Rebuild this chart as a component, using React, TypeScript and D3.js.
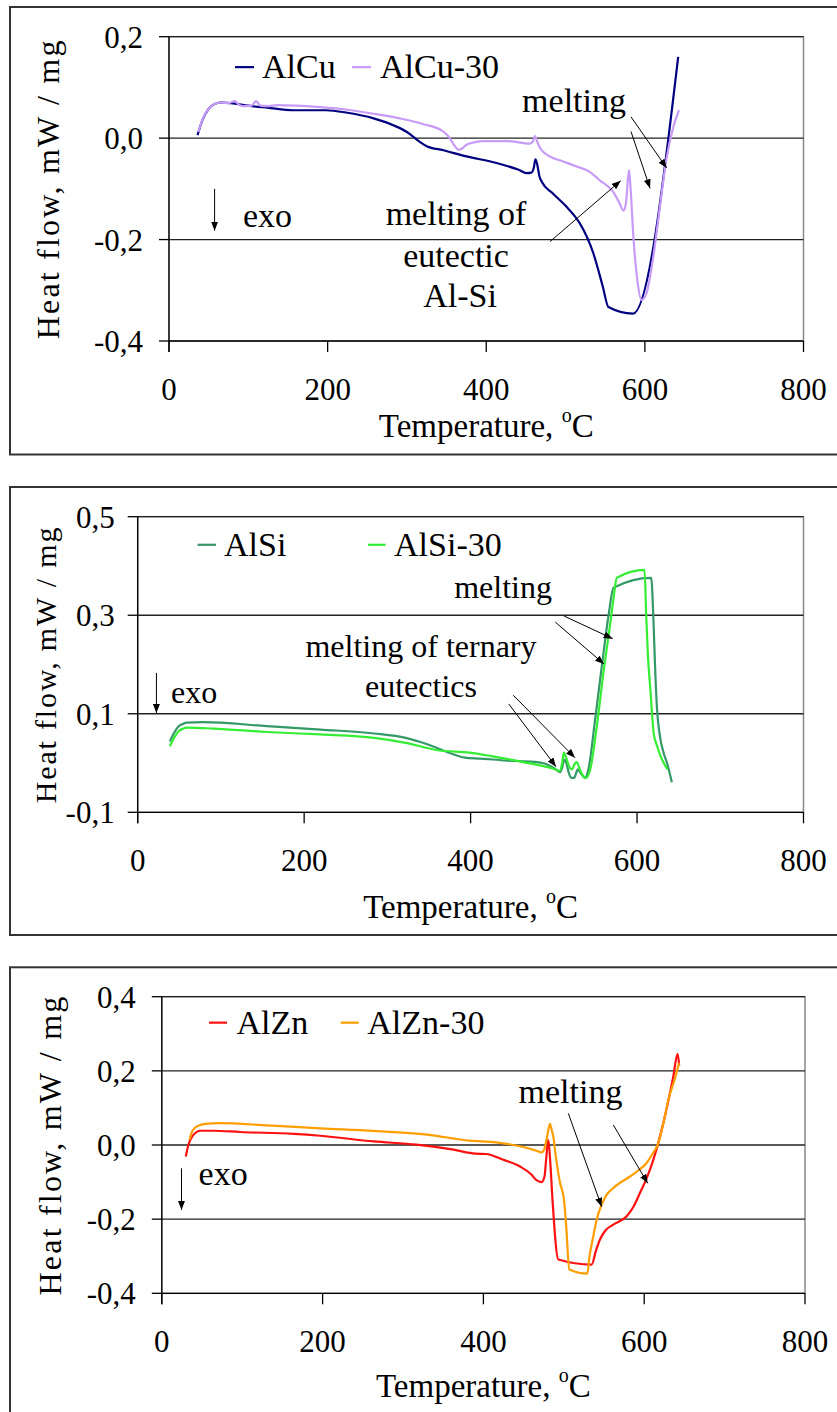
import React from "react";
import * as d3 from "d3";

type Pt = [number, number];

// ---------- DATA ----------
const xTicks = [0, 200, 400, 600, 800];
const xTickLabels = ["0", "200", "400", "600", "800"];

const yTicks1 = [-0.4, -0.2, 0.0, 0.2];
const yTickLabels1 = ["-0,4", "-0,2", "0,0", "0,2"];
const yTicks2 = [-0.1, 0.1, 0.3, 0.5];
const yTickLabels2 = ["-0,1", "0,1", "0,3", "0,5"];
const yTicks3 = [-0.4, -0.2, 0.0, 0.2, 0.4];
const yTickLabels3 = ["-0,4", "-0,2", "0,0", "0,2", "0,4"];

const seriesNames1 = ["AlCu", "AlCu-30"];
const seriesNames2 = ["AlSi", "AlSi-30"];
const seriesNames3 = ["AlZn", "AlZn-30"];

const alCu: Pt[] = [
  [36, 0.006], [42, 0.035], [50, 0.058], [57, 0.067], [65, 0.070], [83, 0.068], [100, 0.064],
  [124, 0.060], [157, 0.055], [198, 0.055], [225, 0.050], [258, 0.039], [285, 0.024], [300, 0.012],
  [315, -0.006], [325, -0.016], [346, -0.024], [375, -0.036], [413, -0.049], [440, -0.062],
  [451, -0.069], [457, -0.068], [460, -0.058], [462, -0.042], [464, -0.05], [467, -0.075],
  [470, -0.086], [484, -0.109], [501, -0.135], [518, -0.168], [527, -0.195], [535, -0.227],
  [547, -0.293], [554, -0.333], [585, -0.346], [642, 0.160],
];
const alCu30: Pt[] = [
  [37, 0.012], [43, 0.04], [50, 0.058], [57, 0.067], [65, 0.070], [75, 0.069], [83, 0.073],
  [88, 0.066], [94, 0.063], [104, 0.064], [110, 0.073], [115, 0.064], [125, 0.063], [137, 0.065],
  [160, 0.064], [191, 0.061], [225, 0.056], [258, 0.048], [291, 0.039], [320, 0.028], [346, 0.013],
  [354, 0.0], [360, -0.015], [365, -0.023], [370, -0.020], [375, -0.013], [386, -0.008],
  [396, -0.006], [427, -0.006], [455, -0.011], [459, -0.006], [461.5, 0.004], [464, -0.006],
  [468, -0.020], [480, -0.036], [497, -0.046], [514, -0.056], [530, -0.066], [543, -0.083],
  [560, -0.106], [568, -0.128], [573, -0.143], [576, -0.13], [580, -0.063], [582, -0.1],
  [585.5, -0.194], [590.5, -0.28], [595.7, -0.319], [602, -0.306], [610, -0.240], [619, -0.135],
  [627, -0.043], [636, 0.023], [643, 0.055],
];

const alSi: Pt[] = [
  [38.6, 0.044], [44, 0.062], [49.5, 0.075], [55, 0.080], [59, 0.082], [78, 0.083], [155, 0.075],
  [219.5, 0.068], [284, 0.060], [322, 0.051], [348, 0.038], [374, 0.021], [393, 0.011], [412, 0.009],
  [444, 0.005], [476, 0.0025], [489, -0.001], [500, -0.01], [507.6, -0.0185], [510, -0.01],
  [512.4, 0.007], [515, 0.0], [518, -0.02], [521, -0.03], [524.4, -0.03], [528.8, -0.013],
  [532, -0.02], [537.6, -0.03], [541.5, -0.013], [549.6, 0.088], [557.7, 0.197], [565.6, 0.298],
  [571.8, 0.356], [617, 0.376], [619.5, 0.30], [622, 0.18], [624, 0.11], [627, 0.06], [632, 0.02],
  [636, 0.0], [641.8, -0.039],
];
const alSi30: Pt[] = [
  [38.6, 0.034], [44, 0.052], [49.5, 0.065], [55, 0.070], [59, 0.072], [91, 0.070], [155, 0.063],
  [219.5, 0.058], [284, 0.051], [322, 0.041], [361, 0.026], [399, 0.021], [425, 0.014], [463, 0.002],
  [502, -0.013], [507, -0.016], [510, 0.0], [512, 0.021], [515, 0.01], [518, -0.005],
  [521.7, -0.013], [525, -0.002], [527.6, 0.0017], [531, -0.012], [534, -0.023], [539, -0.03],
  [543.7, -0.013], [551.7, 0.075], [559.6, 0.183], [566.8, 0.271], [571.6, 0.332], [575.7, 0.376],
  [609, 0.392], [611, 0.3], [613, 0.22], [616, 0.15], [620, 0.06], [624, 0.035], [628, 0.015],
  [636.6, -0.013],
];

const alZn: Pt[] = [
  [29.9, -0.031], [33, 0.0], [37.8, 0.023], [42, 0.033], [47.8, 0.0385], [64.4, 0.0385],
  [97.6, 0.035], [164, 0.030], [197, 0.025], [263.6, 0.0097], [316.7, 0.0008], [363, -0.0127],
  [390, -0.0235], [403, -0.0243], [424.8, -0.04], [445.5, -0.058], [460, -0.08], [466, -0.095],
  [472.5, -0.1], [476, -0.085], [478, -0.04], [480.7, 0.014], [483, -0.04], [486, -0.15],
  [493.2, -0.309], [534.7, -0.3225], [540, -0.285], [545, -0.255], [552, -0.23], [561.6, -0.215],
  [578.2, -0.192], [587, -0.165], [594.8, -0.129], [603, -0.09], [611.3, -0.04], [623.8, 0.059],
  [636.2, 0.185], [641.5, 0.246], [643.5, 0.215],
];
const alZn30: Pt[] = [
  [34.5, 0.014], [37, 0.033], [41, 0.046], [47, 0.053], [54.4, 0.057], [71, 0.059], [130.8, 0.053],
  [197, 0.045], [263.6, 0.038], [330, 0.028], [383, 0.0116], [416, 0.007], [449.5, -0.0054],
  [465, -0.015], [472.5, -0.02], [476, -0.01], [479, 0.02], [482.8, 0.057], [485, 0.04],
  [486.9, 0.023], [490, -0.03], [495.3, -0.102], [500.2, -0.147], [503, -0.22], [506.9, -0.336],
  [529.2, -0.347], [532, -0.3], [536.7, -0.246], [541, -0.2], [547, -0.161], [553, -0.135],
  [561.6, -0.116], [582.3, -0.085], [592, -0.07], [603, -0.0485], [610, -0.025], [617.5, 0.005],
  [624, 0.06], [630, 0.122], [638.3, 0.18], [643.3, 0.221],
];

// annotation anchors, in data units [T, heat flow]
const arrows1: [Pt, Pt][] = [
  [[582.5, 0.042], [627.5, -0.059]],
  [[582.5, 0.013], [606.5, -0.099]],
  [[480.4, -0.204], [569.5, -0.084]],
];
const arrows2: [Pt, Pt][] = [
  [[512.2, 0.2985], [570.7, 0.2524]],
  [[501.8, 0.286], [560.3, 0.201]],
  [[451.3, 0.1375], [525.4, 0.0109]],
  [[445.8, 0.12], [502.6, -0.0074]],
];
const arrows3: [Pt, Pt][] = [
  [[505.6, 0.0855], [547.1, -0.1664]],
  [[561.6, 0.054], [604.4, -0.1033]],
];

// ---------- LAYOUT ----------
const SERIF = "'Liberation Serif', 'Times New Roman', serif";
const TITLE_FONT = "'Liberation Serif', 'Times New Roman', serif";

type Label = { t: string; at: Pt; anchor: string; size: number };

interface PanelCfg {
  id: string;
  frameTop: number;
  frameBottom: number;
  px0: number;
  px1: number;
  pyTop: number;
  pyBottom: number;
  ymin: number;
  ymax: number;
  yTicks: number[];
  yLabels: string[];
  ytLabelOffset: number;
  series: { name: string; data: Pt[]; color: string }[];
  legend: { x1: number; x2: number; tx: number; y: number }[];
  labels: Label[];
  arrows: [Pt, Pt][];
  exo: { x: number; y1: number; y2: number; tx: number; ty: number };
  titleX: number;
  titleSize: number;
  titleSpacing: number;
  xTitleDy: number;
  annSize: number;
}

const panels: PanelCfg[] = [
  {
    id: "p1",
    frameTop: 7,
    frameBottom: 454.5,
    px0: 169,
    px1: 803.5,
    pyTop: 36.7,
    pyBottom: 341,
    ymin: -0.4,
    ymax: 0.2,
    yTicks: yTicks1,
    yLabels: yTickLabels1,
    ytLabelOffset: 26,
    series: [
      { name: seriesNames1[0], data: alCu, color: "#000080" },
      { name: seriesNames1[1], data: alCu30, color: "#C79BF7" },
    ],
    legend: [
      { x1: 83.2, x2: 107.2, tx: 117.3, y: 0.14 },
      { x1: 230.7, x2: 254.7, tx: 266, y: 0.14 },
    ],
    labels: [
      { t: "melting", at: [510.7, 0.0515], anchor: "middle", size: 34 },
      { t: "melting of", at: [361.9, -0.171], anchor: "middle", size: 34 },
      { t: "eutectic", at: [361.9, -0.254], anchor: "middle", size: 34 },
      { t: "Al-Si", at: [367, -0.333], anchor: "middle", size: 34 },
    ],
    arrows: arrows1,
    exo: { x: 57.5, y1: -0.1, y2: -0.1825, tx: 93.3, ty: -0.175 },
    titleX: 59,
    titleSize: 32,
    titleSpacing: 2.2,
    xTitleDy: 96,
    annSize: 34,
  },
  {
    id: "p2",
    frameTop: 487,
    frameBottom: 935,
    px0: 137.7,
    px1: 803.5,
    pyTop: 516.7,
    pyBottom: 812.3,
    ymin: -0.1,
    ymax: 0.5,
    yTicks: yTicks2,
    yLabels: yTickLabels2,
    ytLabelOffset: 23,
    series: [
      { name: seriesNames2[0], data: alSi, color: "#339966" },
      { name: seriesNames2[1], data: alSi30, color: "#33EE33" },
    ],
    legend: [
      { x1: 71.9, x2: 94.1, tx: 103.7, y: 0.443 },
      { x1: 276.7, x2: 297.8, tx: 308, y: 0.443 },
    ],
    labels: [
      { t: "melting", at: [439, 0.334], anchor: "middle", size: 32 },
      { t: "melting of ternary", at: [340.4, 0.216], anchor: "middle", size: 32 },
      { t: "eutectics", at: [340.4, 0.135], anchor: "middle", size: 32 },
    ],
    arrows: arrows2,
    exo: { x: 22.5, y1: 0.183, y2: 0.1016, tx: 40, ty: 0.122 },
    titleX: 56,
    titleSize: 30,
    titleSpacing: 1.8,
    xTitleDy: 106,
    annSize: 32,
  },
  {
    id: "p3",
    frameTop: 967.3,
    frameBottom: 1430,
    px0: 161.8,
    px1: 805,
    pyTop: 996.7,
    pyBottom: 1293.3,
    ymin: -0.4,
    ymax: 0.4,
    yTicks: yTicks3,
    yLabels: yTickLabels3,
    ytLabelOffset: 26,
    series: [
      { name: seriesNames3[0], data: alZn, color: "#FF1010" },
      { name: seriesNames3[1], data: alZn30, color: "#FF9E00" },
    ],
    legend: [
      { x1: 58.7, x2: 81.1, tx: 92.9, y: 0.33 },
      { x1: 222.4, x2: 245, tx: 255.6, y: 0.33 },
    ],
    labels: [{ t: "melting", at: [508.3, 0.114], anchor: "middle", size: 34 }],
    arrows: arrows3,
    exo: { x: 24.5, y1: -0.063, y2: -0.175, tx: 45.8, ty: -0.108 },
    titleX: 61,
    titleSize: 32,
    titleSpacing: 2.2,
    xTitleDy: 104,
    annSize: 34,
  },
];

function Panel({ cfg }: { cfg: PanelCfg }) {
  const x = d3.scaleLinear().domain([0, 800]).range([cfg.px0, cfg.px1]);
  const y = d3.scaleLinear().domain([cfg.ymin, cfg.ymax]).range([cfg.pyBottom, cfg.pyTop]);
  const line = d3
    .line<Pt>()
    .x((d) => x(d[0]))
    .y((d) => y(d[1]))
    .curve(d3.curveMonotoneX);
  const markerId = `arr-${cfg.id}`;
  const midX = (cfg.px0 + cfg.px1) / 2;
  const midY = (cfg.pyTop + cfg.pyBottom) / 2;
  return (
    <g>
      <defs>
        <marker
          id={markerId}
          markerUnits="userSpaceOnUse"
          markerWidth={9}
          markerHeight={7}
          refX={9}
          refY={3.5}
          orient="auto"
        >
          <path d="M0,0 L9,3.5 L0,7 Z" fill="#000" />
        </marker>
      </defs>
      {/* outer frame */}
      <rect
        x={10}
        y={cfg.frameTop}
        width={840}
        height={cfg.frameBottom - cfg.frameTop}
        fill="#fff"
        stroke="#333"
        strokeWidth={2}
      />
      {/* plot area border */}
      <rect
        x={cfg.px0}
        y={cfg.pyTop}
        width={cfg.px1 - cfg.px0}
        height={cfg.pyBottom - cfg.pyTop}
        fill="none"
        stroke="#888"
        strokeWidth={1.5}
      />
      {/* gridlines */}
      {cfg.yTicks.slice(1).map((t) => (
        <line key={t} x1={cfg.px0} x2={cfg.px1} y1={y(t)} y2={y(t)} stroke="#222" strokeWidth={1.3} />
      ))}
      {/* axes */}
      <line x1={cfg.px0} x2={cfg.px1} y1={cfg.pyBottom} y2={cfg.pyBottom} stroke="#000" strokeWidth={1.3} />
      <line x1={cfg.px0} x2={cfg.px0} y1={cfg.pyTop} y2={cfg.pyBottom + 11} stroke="#000" strokeWidth={1.3} />
      {xTicks.map((t) => (
        <line key={t} x1={x(t)} x2={x(t)} y1={cfg.pyBottom} y2={cfg.pyBottom + 11} stroke="#000" strokeWidth={1.3} />
      ))}
      {cfg.yTicks.map((t) => (
        <line key={t} x1={cfg.px0 - 10} x2={cfg.px0} y1={y(t)} y2={y(t)} stroke="#000" strokeWidth={1.3} />
      ))}
      {/* tick labels */}
      {xTicks.map((t, i) => (
        <text key={t} x={x(t)} y={cfg.pyBottom + 59} textAnchor="middle" fontFamily={SERIF} fontSize={31} fill="#000">
          {xTickLabels[i]}
        </text>
      ))}
      {cfg.yTicks.map((t, i) => (
        <text
          key={t}
          x={cfg.px0 - cfg.ytLabelOffset}
          y={y(t) + 11}
          textAnchor="end"
          fontFamily={SERIF}
          fontSize={31}
          fill="#000"
        >
          {cfg.yLabels[i]}
        </text>
      ))}
      {/* axis titles */}
      <text x={midX} y={cfg.pyBottom + cfg.xTitleDy} textAnchor="middle" fontFamily={SERIF} fontSize={33} fill="#000">
        Temperature,{" "}
        <tspan fontSize={20} dy={-15}>
          o
        </tspan>
        <tspan dy={15}>C</tspan>
      </text>
      <text
        transform={`translate(${cfg.titleX},${midY}) rotate(-90)`}
        textAnchor="middle"
        fontFamily={TITLE_FONT}
        fontSize={cfg.titleSize}
        letterSpacing={cfg.titleSpacing}
        fill="#000"
      >
        Heat flow, mW / mg
      </text>
      {/* series */}
      {cfg.series.map((s) => (
        <path key={s.name} d={line(s.data) || ""} fill="none" stroke={s.color} strokeWidth={2.2} strokeLinejoin="round" />
      ))}
      {/* legend */}
      {cfg.series.map((s, i) => {
        const L = cfg.legend[i];
        return (
          <g key={s.name}>
            <line x1={x(L.x1)} x2={x(L.x2)} y1={y(L.y)} y2={y(L.y)} stroke={s.color} strokeWidth={2.2} />
            <text x={x(L.tx)} y={y(L.y) + 11} fontFamily={SERIF} fontSize={34} fill="#000">
              {s.name}
            </text>
          </g>
        );
      })}
      {/* annotations */}
      {cfg.labels.map((l, i) => (
        <text key={i} x={x(l.at[0])} y={y(l.at[1])} textAnchor={l.anchor} fontFamily={SERIF} fontSize={l.size} fill="#000">
          {l.t}
        </text>
      ))}
      {cfg.arrows.map((a, i) => (
        <line
          key={i}
          x1={x(a[0][0])}
          y1={y(a[0][1])}
          x2={x(a[1][0])}
          y2={y(a[1][1])}
          stroke="#000"
          strokeWidth={1}
          markerEnd={`url(#${markerId})`}
        />
      ))}
      <line
        x1={x(cfg.exo.x)}
        x2={x(cfg.exo.x)}
        y1={y(cfg.exo.y1)}
        y2={y(cfg.exo.y2)}
        stroke="#000"
        strokeWidth={1}
        markerEnd={`url(#${markerId})`}
      />
      <text x={x(cfg.exo.tx)} y={y(cfg.exo.ty)} fontFamily={SERIF} fontSize={cfg.annSize} fill="#000">
        exo
      </text>
    </g>
  );
}

export default function App() {
  return (
    <svg
      width={837}
      height={1412}
      viewBox="0 0 837 1412"
      style={{ position: "absolute", left: 0, top: 0, background: "#fff" }}
    >
      <rect x={0} y={0} width={837} height={1412} fill="#fff" />
      {panels.map((p) => (
        <Panel key={p.id} cfg={p} />
      ))}
    </svg>
  );
}
